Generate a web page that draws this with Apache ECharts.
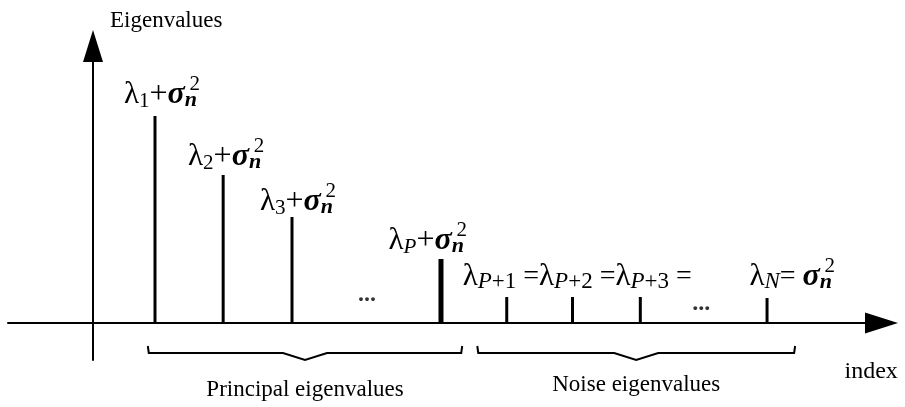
<!DOCTYPE html>
<html><head><meta charset="utf-8">
<script src="https://cdn.jsdelivr.net/npm/echarts@6/dist/echarts.min.js"></script>
<style>html,body{margin:0;padding:0;background:#fff}#c{width:905px;height:407px}</style>
</head><body><div id="c"></div>
<script>
// ---- data (schematic eigenvalue spectrum) ----
const stemIndex = [0.905, 1.9, 2.905, 5.08, 6.04, 7.0, 7.99, 9.84];
const stemValue = [10.35, 7.4, 5.3, 3.2, 1.3, 1.3, 1.3, 1.25];
const labelMain = [
  '{l|λ}{sb|1}{p|+}{s|σ}{n|n}',
  '{l|λ}{sb|2}{p|+}{s|σ}{n|n}',
  '{l|λ}{sb|3}{p|+}{s|σ}{n|n}',
  '{l|λ}{si|P}{p|+}{s|σ}{n|n}',
  '{l|λ}{ni|P}{nb|+1}{o| =}{l|λ}{ni|P}{nb|+2}{o| =}{l|λ}{ni|P}{nb|+3}{o| =}',
  '', '',
  '{l|λ}{ni|N}{o|= }{s|σ}{n|n}'
];
const labelSup = ['2', '2', '2', '2', '', '', '', '2'];
const ellipsisX = [4.0, 8.88];
const ellipsisY = [1.4, 0.95];
const braceFrom = [0.8, 5.61];
const braceTo = [5.39, 10.25];
const braceLabels = ['Principal eigenvalues', 'Noise eigenvalues'];
const axisNames = ['index', 'Eigenvalues'];

// ---- layout constants ----
const labelDx = [42, 38, 41, 23, -44, 0, 0, 65];
const labelDy = [-13, -10, -7, -10, -12, 0, 0, -13];
const braceTextDy = [55, 50];
const F = '"Liberation Serif", "Times New Roman", serif';
const rich = {
  l: {fontFamily: F, fontSize: 31, lineHeight: 34, fill: '#000'},
  o: {fontFamily: F, fontSize: 28, lineHeight: 34, fill: '#000'},
  p: {fontFamily: F, fontSize: 32, lineHeight: 34, fill: '#000'},
  s: {fontFamily: F, fontSize: 32, fontWeight: 'bold', fontStyle: 'italic', lineHeight: 34, fill: '#000'},
  sb: {fontFamily: F, fontSize: 21, lineHeight: 18, verticalAlign: 'bottom', fill: '#000'},
  si: {fontFamily: F, fontSize: 21, fontStyle: 'italic', lineHeight: 18, verticalAlign: 'bottom', fill: '#000'},
  nb: {fontFamily: F, fontSize: 23, lineHeight: 18, verticalAlign: 'bottom', fill: '#000'},
  ni: {fontFamily: F, fontSize: 23, fontStyle: 'italic', lineHeight: 18, verticalAlign: 'bottom', fill: '#000'},
  n: {fontFamily: F, fontSize: 22, fontStyle: 'italic', fontWeight: 'bold', lineHeight: 18, verticalAlign: 'bottom', fill: '#000'},
  sp: {fontFamily: F, fontSize: 21, lineHeight: 20, fill: '#000'}
};

function renderStem(params, api) {
  const i = params.dataIndex;
  const x = api.value(0), y = api.value(1);
  const top = api.coord([x, y]);
  const base = api.coord([x, 0]);
  const w = i === 3 ? 5 : 3;
  const children = [{
    type: 'rect',
    shape: {x: top[0] - w / 2, y: top[1], width: w, height: base[1] - top[1]},
    style: {fill: '#000'}
  }];
  const main = labelMain[i];
  if (main) {
    const sup = labelSup[i];
    const baseline = top[1] + labelDy[i];
    const ax = top[0] + labelDx[i];
    children.push({
      type: 'text', x: ax, y: baseline + 8.6,
      style: {text: main, rich: rich, align: sup ? 'right' : 'left', verticalAlign: 'bottom', fill: '#000'}
    });
    if (sup) {
      children.push({
        type: 'text', x: ax + 3, y: baseline - 9,
        style: {text: '{sp|' + sup + '}', rich: rich, align: 'right', verticalAlign: 'bottom', fill: '#000'}
      });
    }
  }
  return {type: 'group', children: children};
}

function renderBrace(params, api) {
  const i = params.dataIndex;
  const a = api.coord([api.value(0), 0]);
  const b = api.coord([api.value(1), 0]);
  const y0 = a[1];
  const yTop = y0 + 23, yLine = y0 + 30, yTip = y0 + 37;
  const xm = (a[0] + b[0]) / 2;
  return {
    type: 'group',
    children: [{
      type: 'polyline',
      shape: {points: [[a[0], yTop], [a[0] + 1, yLine], [xm - 22, yLine], [xm, yTip], [xm + 22, yLine], [b[0] - 1, yLine], [b[0], yTop]]},
      style: {stroke: '#000', lineWidth: 2, fill: null}
    }, {
      type: 'text', x: xm, y: y0 + braceTextDy[i],
      style: {text: braceLabels[i], fontFamily: F, fontSize: 23, align: 'center', verticalAlign: 'top', fill: '#000'}
    }]
  };
}

const chart = echarts.init(document.getElementById('c'), null, {renderer: 'canvas'});
chart.setOption({
  animation: false,
  backgroundColor: '#fff',
  grid: {left: 8, right: 23.5, top: 46, bottom: 47},
  xAxis: {
    type: 'value', min: -1.241, max: 11.511,
    name: axisNames[0], nameLocation: 'end', nameGap: -37,
    nameMoveOverlap: false,
    nameTextStyle: {fontFamily: F, fontSize: 24, color: '#000', align: 'left', verticalAlign: 'top', padding: [37, 0, 0, 0]},
    axisLine: {onZero: true, symbol: ['none', 'triangle'], symbolSize: [21, 33], lineStyle: {color: '#000', width: 2}},
    axisTick: {show: false}, axisLabel: {show: false}, splitLine: {show: false}
  },
  yAxis: {
    type: 'value', min: -1.85, max: 13.85,
    name: axisNames[1], nameLocation: 'end', nameGap: 25,
    nameTextStyle: {fontFamily: F, fontSize: 23, color: '#000', align: 'left', verticalAlign: 'middle', padding: [0, 0, 0, 17]},
    axisLine: {onZero: true, symbol: ['none', 'triangle'], symbolSize: [20, 32], lineStyle: {color: '#000', width: 2}},
    axisTick: {show: false}, axisLabel: {show: false}, splitLine: {show: false}
  },
  series: [{
    type: 'custom', renderItem: renderStem, clip: false, silent: true,
    data: stemIndex.map((x, i) => [x, stemValue[i]])
  }, {
    type: 'custom', renderItem: renderBrace, clip: false, silent: true,
    data: braceFrom.map((x, i) => [x, braceTo[i]])
  }, {
    type: 'scatter', silent: true, symbolSize: 1,
    itemStyle: {color: 'transparent'},
    data: ellipsisX.map((x, i) => [x, ellipsisY[i]]),
    label: {show: true, position: 'inside', formatter: '...', fontFamily: F, fontSize: 24, fontWeight: 'bold', color: '#000'}
  }]
});
</script></body></html>
